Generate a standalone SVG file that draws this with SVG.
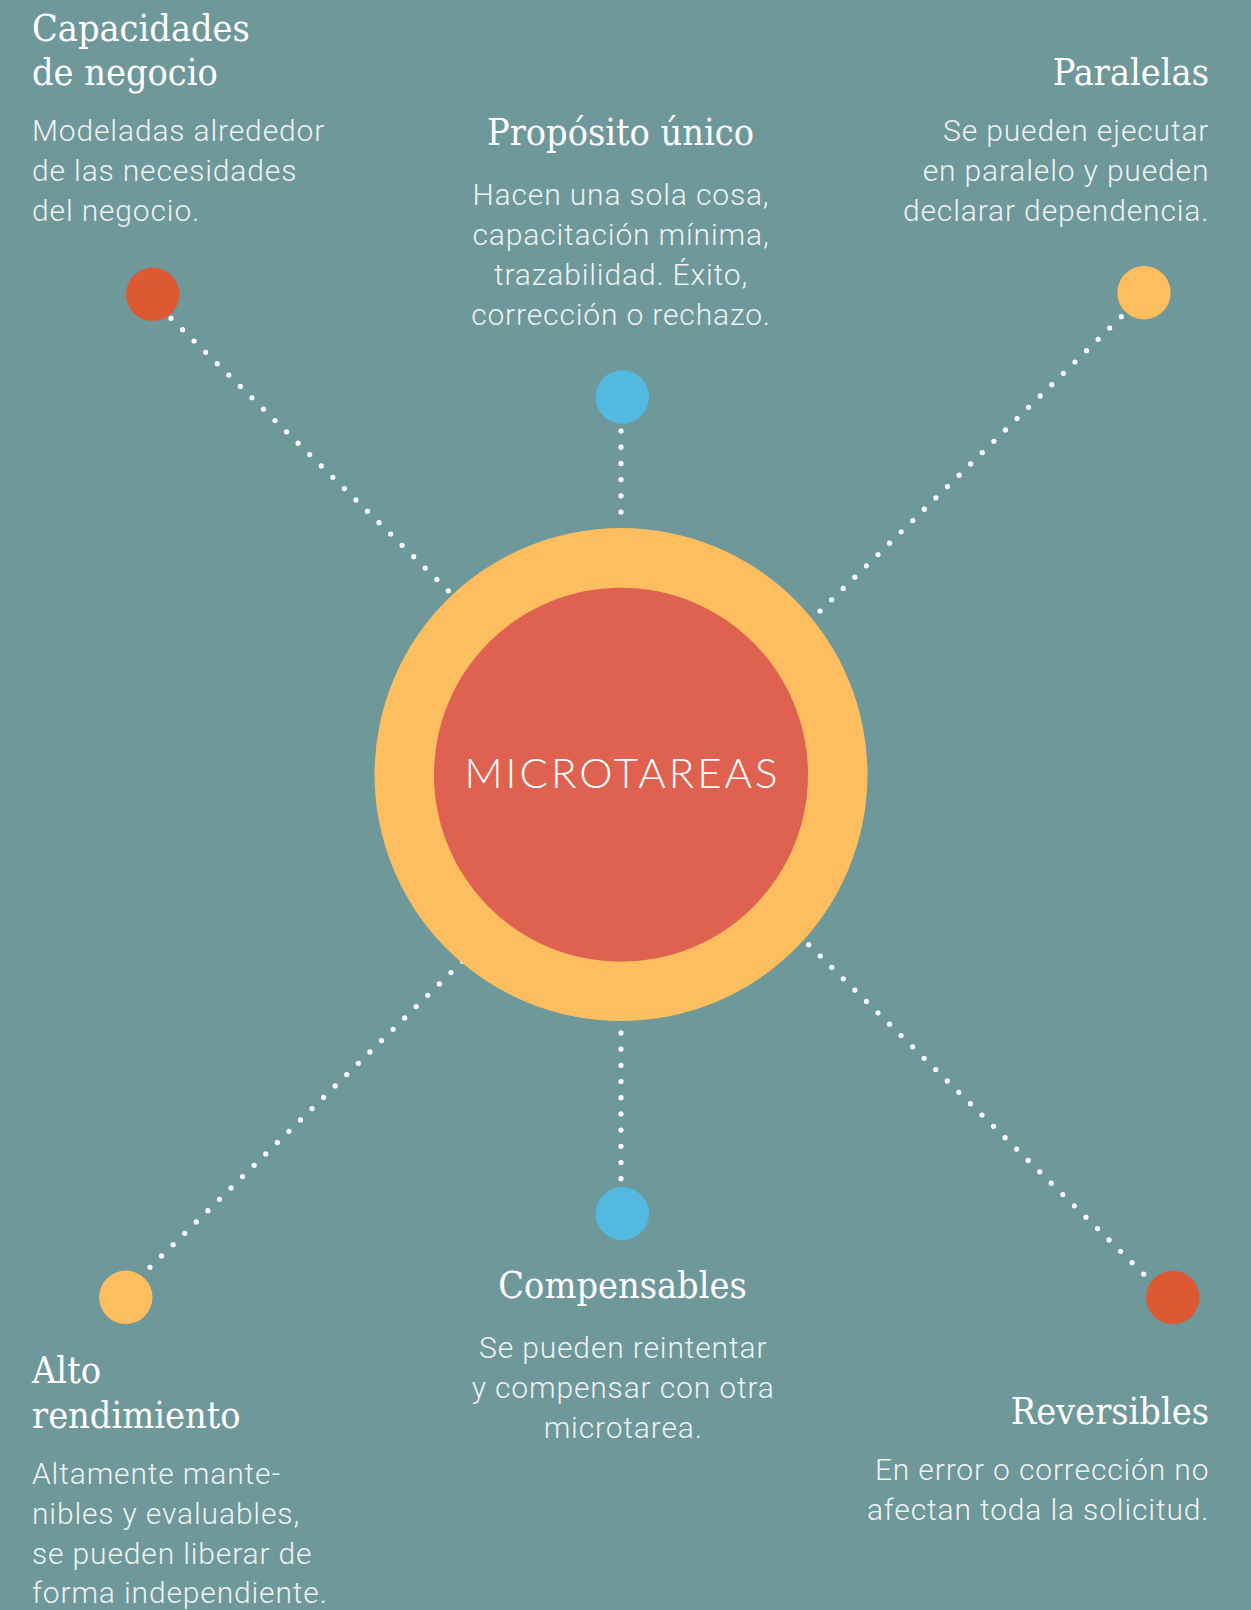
<svg xmlns="http://www.w3.org/2000/svg" width="1251" height="1610" viewBox="0 0 1251 1610">
  <style>
    .title { font-family: "DejaVu Serif Condensed", "DejaVu Serif", serif; font-size: 37.5px; fill: #ffffff; }
    .body { font-family: Roboto, "Liberation Sans", sans-serif; font-weight: 300; font-size: 30px; fill: #eef3f2; letter-spacing: 0.85px; }
    .center { font-family: Lato, "Liberation Sans", sans-serif; font-weight: 300; font-size: 42px; fill: #ffffff; letter-spacing: 3px; }
    .dots { stroke: #ffffff; stroke-width: 5.2; stroke-linecap: round; stroke-dasharray: 0 16.2; fill: none; }
    .red { fill: #dc5934; }
    .blue { fill: #53b9e0; }
    .yellow { fill: #fcbe5f; }
  </style>
  <rect width="1251" height="1610" fill="#6e9899"/>

  <!-- dotted connectors, drawn beneath the central rings -->
  <g id="connectors">
    <line class="dots" x1="171" y1="318.3" x2="460.5" y2="602.7"/>
    <line class="dots" x1="621" y1="431" x2="621" y2="528"/>
    <line class="dots" x1="1121.3" y1="316.7" x2="808.6" y2="622.3"/>
    <line class="dots" x1="150" y1="1267.3" x2="473.4" y2="950.6"/>
    <line class="dots" x1="621" y1="1178.7" x2="621" y2="1016"/>
    <line class="dots" x1="1143.7" y1="1274" x2="796.4" y2="932.6"/>
  </g>

  <g id="microtareas">
    <circle cx="621" cy="774.5" r="246.5" fill="#fcbe5f"/>
    <circle cx="621" cy="774.7" r="187" fill="#df6250"/>
    <text class="center" x="622.5" y="787.7" text-anchor="middle">MICROTAREAS</text>
  </g>

  <g id="capacidades">
    <circle class="red" cx="152.7" cy="294.3" r="26.7"/>
    <text class="title" x="32" y="40.7">Capacidades</text>
    <text class="title" x="32" y="85">de negocio</text>
    <text class="body" x="32" y="140.7">Modeladas alrededor</text>
    <text class="body" x="32" y="180.7">de las necesidades</text>
    <text class="body" x="32" y="220.7">del negocio.</text>
  </g>

  <g id="proposito">
    <circle class="blue" cx="622.3" cy="397" r="26.7"/>
    <text class="title" x="620.5" y="145" text-anchor="middle">Propósito único</text>
    <text class="body" x="621" y="205" text-anchor="middle">Hacen una sola cosa,</text>
    <text class="body" x="621" y="245" text-anchor="middle">capacitación mínima,</text>
    <text class="body" x="621" y="285" text-anchor="middle">trazabilidad. Éxito,</text>
    <text class="body" x="621" y="325" text-anchor="middle">corrección o rechazo.</text>
  </g>

  <g id="paralelas">
    <circle class="yellow" cx="1144" cy="292.7" r="26.7"/>
    <text class="title" x="1209" y="85" text-anchor="end">Paralelas</text>
    <text class="body" x="1209.3" y="140.7" text-anchor="end">Se pueden ejecutar</text>
    <text class="body" x="1209.3" y="180.7" text-anchor="end">en paralelo y pueden</text>
    <text class="body" x="1209.3" y="220.7" text-anchor="end">declarar dependencia.</text>
  </g>

  <g id="alto-rendimiento">
    <circle class="yellow" cx="125.8" cy="1297.3" r="26.7"/>
    <text class="title" x="32" y="1383.3">Alto</text>
    <text class="title" x="32" y="1428.3">rendimiento</text>
    <text class="body" x="32" y="1484.3">Altamente mante-</text>
    <text class="body" x="32" y="1524.3">nibles y evaluables,</text>
    <text class="body" x="32" y="1564.3">se pueden liberar de</text>
    <text class="body" x="32" y="1603.3">forma independiente.</text>
  </g>

  <g id="compensables">
    <circle class="blue" cx="622.3" cy="1213.7" r="26.7"/>
    <text class="title" x="622.5" y="1298.3" text-anchor="middle">Compensables</text>
    <text class="body" x="623.2" y="1358.3" text-anchor="middle">Se pueden reintentar</text>
    <text class="body" x="623.2" y="1398.3" text-anchor="middle">y compensar con otra</text>
    <text class="body" x="623.2" y="1438.3" text-anchor="middle">microtarea.</text>
  </g>

  <g id="reversibles">
    <circle class="red" cx="1172.8" cy="1297.5" r="26.7"/>
    <text class="title" x="1209" y="1424" text-anchor="end">Reversibles</text>
    <text class="body" x="1209.3" y="1480" text-anchor="end">En error o corrección no</text>
    <text class="body" x="1209.3" y="1520" text-anchor="end">afectan toda la solicitud.</text>
  </g>
</svg>
